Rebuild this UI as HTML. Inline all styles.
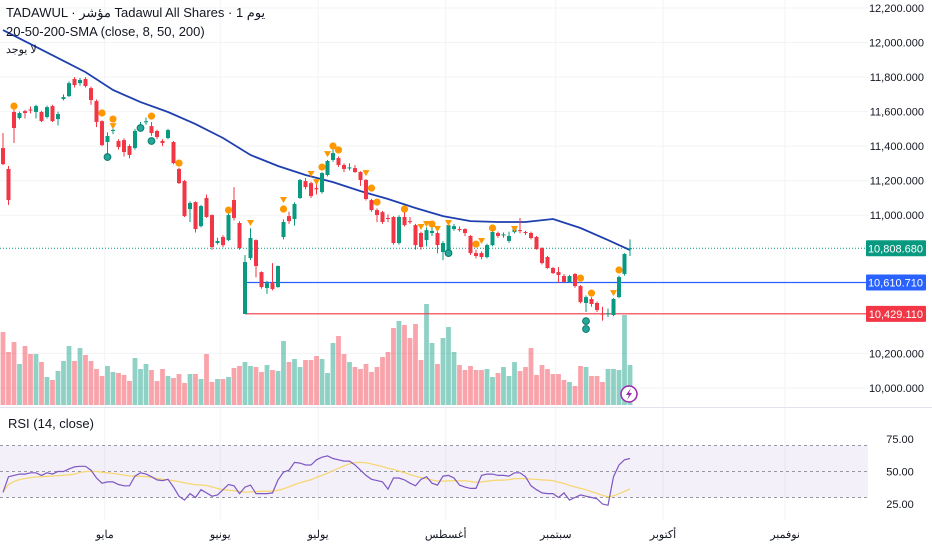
<!DOCTYPE html>
<html><head><meta charset="utf-8">
<style>
html,body{margin:0;padding:0;background:#fff;}
body{width:932px;height:550px;overflow:hidden;font-family:"Liberation Sans","Noto Sans CJK SC",sans-serif;}
svg{display:block;}
</style></head>
<body>
<svg id="chart" width="932" height="550" xmlns="http://www.w3.org/2000/svg" font-family="Liberation Sans, Noto Sans CJK SC, sans-serif">
  <g id="grid"></g>
  <g id="vols"></g>
  <g id="levels"></g>
  <path id="sma" fill="none" stroke="#1e3fae" stroke-width="1.8"/>
  <g id="candles"></g>
  <g id="marks"></g>
  <g id="axis"></g>
  <line x1="0" y1="407.5" x2="932" y2="407.5" stroke="#e0e3eb"/>
  <g id="rsi"></g>
  <g id="xaxis"></g>
  <g font-size="13" fill="#131722">
    <text x="6" y="17">TADAWUL · مؤشر Tadawul All Shares · 1 يوم</text>
    <text x="6" y="36">20-50-200-SMA (close, 8, 50, 200)</text>
    <text x="6" y="53" font-size="11">لا يوجد</text>
    <text x="8" y="428">RSI (14, close)</text>
  </g>
  <g>
    <circle cx="629" cy="394" r="8" fill="#fff" stroke="#9c27b0" stroke-width="1.5"/>
    <path d="M631 388 L626 395 L629 395 L627 400 L632 393 L629 393 Z" fill="#9c27b0"/>
  </g>
</svg>
<script>
const opens=[11389,11268,11598,11563,11603,11612,11598,11598,11569,11632,11557,11673,11690,11789,11765,11789,11736,11661,11545,11424,11488,11430,11435,11401,11389,11505,11540,11516,11488,11430,11447,11424,11268,11198,11036,11076,10937,11100,11001,10839,10874,10856,11088,10955,10428,10752,10856,10671,10579,10607,10584,10874,10995,10978,11100,11198,11186,11157,11134,11233,11320,11331,11291,11271,11273,11250,11204,11088,11030,11018,10984,10990,10839,10990,10966,10943,10897,10856,10897,10897,10787,10798,10920,10920,10920,10880,10781,10781,10758,10827,10897,10885,10851,10903,10914,10903,10897,10874,10810,10758,10694,10671,10648,10613,10660,10590,10492,10515,10492,10430,10428,10422,10526,10660,10803];
const closes=[11296,11088,11505,11592,11592,11606,11632,11545,11626,11545,11586,11684,11765,11754,11783,11748,11667,11540,11406,11459,11494,11395,11366,11349,11488,11516,11544,11476,11453,11418,11493,11302,11186,10995,11071,10920,11053,10990,10816,10851,10827,11001,10984,10810,10729,10868,10706,10584,10607,10573,10706,10961,10966,11065,11204,11163,11111,11150,11244,11314,11360,11291,11268,11277,11250,11204,11094,11030,11001,10961,10980,10839,10990,10943,10960,10827,10816,10914,10909,10827,10839,10943,10937,10916,10897,10781,10764,10758,10827,10903,10880,10889,10880,10926,10909,10897,10868,10804,10723,10694,10665,10654,10613,10648,10590,10497,10526,10486,10451,10427,10432,10515,10642,10776,10809];
const highs=[11476,11285,11621,11600,11610,11630,11640,11605,11635,11640,11600,11700,11775,11800,11795,11800,11745,11670,11550,11480,11520,11440,11445,11410,11500,11540,11565,11540,11495,11440,11500,11430,11275,11205,11080,11080,11060,11120,11005,10870,10885,11010,11163,10965,10770,10925,10860,10675,10620,10723,10710,10975,11020,11075,11210,11215,11195,11185,11250,11320,11385,11340,11300,11300,11290,11255,11210,11095,11040,11025,11005,10995,11000,11020,10990,10950,10905,10930,10940,10905,10850,10955,10950,10935,10925,10885,10800,10790,10835,10915,10905,10900,10905,10935,10985,10910,10905,10880,10815,10765,10700,10700,10660,10655,10665,10595,10535,10525,10500,10470,10460,10520,10650,10780,10860];
const lows=[11290,11059,11418,11555,11560,11590,11560,11540,11560,11540,11520,11665,11685,11740,11750,11740,11640,11510,11400,11320,11470,11380,11340,11330,11380,11495,11525,11460,11440,11400,11440,11295,11180,10990,10960,10900,10930,10985,10800,10830,10815,10850,10970,10800,10428,10740,10640,10575,10545,10565,10580,10860,10950,10940,11095,11150,11100,11120,11125,11225,11310,11280,11250,11260,11245,11170,11085,11020,10960,10950,10960,10830,10830,10935,10950,10800,10800,10820,10880,10780,10740,10790,10910,10905,10880,10770,10750,10745,10750,10820,10870,10870,10840,10895,10895,10885,10860,10800,10715,10690,10660,10610,10610,10610,10580,10490,10440,10470,10440,10390,10410,10415,10520,10650,10764];
const volumes=[73,53,63,41,59,51,51,43,28,25,34,44,59,44,57,50,44,36,29,39,33,32,30,24,47,36,41,35,24,36,29,27,31,22,31,31,26,51,23,26,26,28,37,39,43,39,38,33,40,35,34,64,43,46,38,45,45,49,46,32,62,69,51,43,38,36,41,33,38,48,53,77,84,80,67,81,45,101,62,41,67,78,53,40,35,39,35,35,36,28,32,38,29,43,34,38,57,30,40,36,31,31,25,23,19,39,38,29,29,23,36,36,35,90,40];
const smaIdx=[0,5,10,15,20,25,30,35,40,45,50,55,60,65,70,75,80,85,90,95,100,105,110,114];
const smaVals=[12072,11991,11910,11829,11725,11655,11598,11528,11447,11349,11285,11233,11192,11140,11094,11042,10995,10966,10961,10961,10978,10926,10856,10798];
const rsiVals=[34,46,47,48,48,49,49,47,49,48,50,50,52,53.5,54,54,51,45,41,42,42,40,39,39,46.5,49,48,46,43.5,43,44,38,31,28,33,30,36,33.5,31,32,36,40,39,33,38,39.5,33,33,33,33.5,43.5,49.5,51,57,56.5,55,55,59,61,62,60,59,58,58,55,51,47,44,43,42,36.5,45,45,43.5,41,39,44,46,41,39.5,46.5,47,45,39.5,38,37,37,47,48,48,47,47,46.5,49,49,46,39,36,33.5,33,33,30,33.5,28,30,32,31,30,29,25,24,46,55,59,60];
const priceTicks=[12200,12000,11800,11600,11400,11200,11000,10200,10000];
const rsiTicks=[75,50,25];
const levelPrices=[10808.68,10610.71,10429.11];
const levelLabels=["10,808.680","10,610.710","10,429.110"];
const monthLabels=["مايو","يونيو","يوليو","أغسطس","سبتمبر","أكتوبر","نوفمبر"];
const monthPos=[18.5,39.5,57.3,80.5,100.5,120,142.2];
const markIdx=[2,18,20,20,27,32,19,25,27,41,45,51,51,56,57,58,59,60,61,66,67,68,73,76,77,78,79,81,81,86,87,89,93,105,107,111,112,106,106];
const markKind=["c","c","c","t","c","c","g","g","g","c","t","t","c","t","t","c","t","c","c","t","c","c","c","t","t","c","t","t","g","c","t","c","t","c","c","t","c","g","g"];
const markPrice=[11632,11592,11557,11516,11574,11302,11337,11505,11430,11030,10955,11088,11036,11239,11192,11279,11354,11401,11378,11244,11157,11076,11036,10932,10949,10949,10920,10955,10781,10833,10851,10926,10920,10636,10549,10549,10683,10387,10341];

const NS="http://www.w3.org/2000/svg";
const X=i=>3+5.5*i;
const Y=p=>8+(12200-p)*0.1727;
const VB=405, VS=1.0;
const RY=v=>471.5-(v-50)*1.3;
const GREEN="#089981", RED="#f23645";
function mk(tag,attrs,parent){const e=document.createElementNS(NS,tag);for(const k in attrs)e.setAttribute(k,attrs[k]);parent.appendChild(e);return e;}
const fmt=p=>p.toLocaleString('en-US',{minimumFractionDigits:3,maximumFractionDigits:3});

// grid
const grid=document.getElementById('grid');
priceTicks.forEach(p=>{const l=mk('line',{x1:0,x2:868,y1:Y(p),y2:Y(p),stroke:'#f2f3f5'},grid);

});
monthPos.forEach(m=>{const l=mk('line',{x1:X(m),x2:X(m),y1:0,y2:520,stroke:'#f2f3f5'},grid);

});

// volumes
const vols=document.getElementById('vols');
volumes.forEach((v,i)=>{const up=closes[i]>=opens[i];
const r=mk('rect',{x:X(i)-2.4,y:VB-v*VS,width:4.8,height:v*VS,fill:up?'rgba(8,153,129,0.45)':'rgba(242,54,69,0.45)'},vols);

});

// levels
const lv=document.getElementById('levels');
const lvColors=['#089981','#2962ff','#f23645'];
const l0=mk('line',{x1:0,x2:868,y1:Y(levelPrices[0]),y2:Y(levelPrices[0]),stroke:'#089981','stroke-dasharray':'1 2','stroke-width':1},lv);


[1,2].forEach(k=>{const l=mk('line',{x1:X(44),x2:868,y1:Y(levelPrices[k]),y2:Y(levelPrices[k]),stroke:lvColors[k],'stroke-width':1.2},lv);

});

// sma
let d='';smaIdx.forEach((ix,k)=>{d+=(k?'L':'M')+X(ix).toFixed(1)+' '+Y(smaVals[k]).toFixed(1)+' ';});
document.getElementById('sma').setAttribute('d',d);

// candles
const cg=document.getElementById('candles');
opens.forEach((o,i)=>{const c=closes[i],up=c>=o,col=up?GREEN:RED;
const g=mk('g',{},cg);


mk('line',{x1:X(i),x2:X(i),y1:Y(highs[i]),y2:Y(lows[i]),stroke:col,'stroke-width':1},g);
const t=Y(Math.max(o,c)),b=Y(Math.min(o,c));
mk('rect',{x:X(i)-2,y:t,width:4,height:Math.max(1,b-t),fill:col},g);});

// markers
const mg=document.getElementById('marks');
markIdx.forEach((ix,k)=>{const x=X(ix),y=Y(markPrice[k]);let e;
if(markKind[k]=='c')e=mk('circle',{cx:x,cy:y,r:3.6,fill:'#ff9800'},mg);
else if(markKind[k]=='t')e=mk('path',{d:`M${x-3.5} ${y-3} L${x+3.5} ${y-3} L${x} ${y+3} Z`,fill:'#ff9800'},mg);
else e=mk('circle',{cx:x,cy:y,r:3.4,fill:'#26a69a',stroke:'#0b7a6a','stroke-width':1},mg);

});

// price axis
const ax=document.getElementById('axis');
priceTicks.forEach(p=>{const t=mk('text',{x:924,y:Y(p)+4,'text-anchor':'end','font-size':11,fill:'#131722'},ax);t.textContent=fmt(p);

});
levelPrices.forEach((p,k)=>{const y=Y(p);
const r=mk('rect',{x:866,y:y-8,width:60,height:16,fill:lvColors[k],rx:1},ax);


const t=mk('text',{x:923,y:y+4,'text-anchor':'end','font-size':11,fill:'#fff'},ax);t.textContent=levelLabels[k];

});

// rsi
const rg=document.getElementById('rsi');
const band=mk('rect',{x:0,y:RY(70),width:868,height:RY(30)-RY(70),fill:'rgba(126,87,194,0.09)'},rg);


[70,50,30].forEach(v=>{const l=mk('line',{x1:0,x2:868,y1:RY(v),y2:RY(v),stroke:'#9598a1','stroke-dasharray':'3 3','stroke-width':1},rg);

});
rsiTicks.forEach(v=>{const t=mk('text',{x:900,y:RY(v)+4,'text-anchor':'middle','font-size':11,fill:'#131722'},rg);t.textContent=v.toFixed(2);

});
const ma=rsiVals.map((v,i)=>{const s=rsiVals.slice(Math.max(0,i-13),i+1);return s.reduce((a,b)=>a+b,0)/s.length;});
let dm='';ma.forEach((v,i)=>{dm+=(i?'L':'M')+X(i).toFixed(1)+' '+RY(v).toFixed(1)+' ';});
const pm=mk('path',{d:dm,fill:'none',stroke:'#f7d774','stroke-width':1.3},rg);


let dr='';rsiVals.forEach((v,i)=>{dr+=(i?'L':'M')+X(i).toFixed(1)+' '+RY(v).toFixed(1)+' ';});
const pr=mk('path',{d:dr,fill:'none',stroke:'#7e57c2','stroke-width':1.2},rg);



// x axis
const xa=document.getElementById('xaxis');
monthLabels.forEach((m,k)=>{const t=mk('text',{x:X(monthPos[k]),y:538,'text-anchor':'middle','font-size':11,fill:'#131722'},xa);t.textContent=m;

});
</script>
</body></html>
